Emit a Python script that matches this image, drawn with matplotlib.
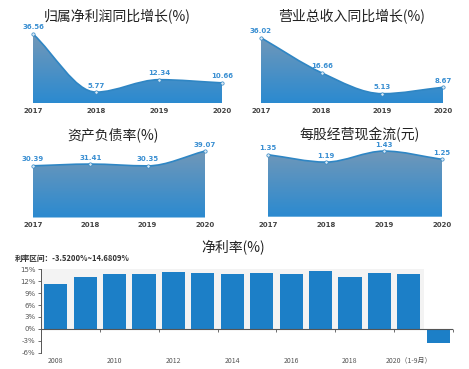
import numpy as np
import matplotlib
matplotlib.use("Agg")
import matplotlib.pyplot as plt
from matplotlib.path import Path
from matplotlib.patches import PathPatch
from matplotlib.colors import LinearSegmentedColormap

plt.rcParams['font.family'] = ['Noto Sans CJK SC', 'DejaVu Sans']

# ---- data ----
years = ['2017', '2018', '2019', '2020']
net_profit_growth = [36.56, 5.77, 12.34, 10.66]
revenue_growth = [36.02, 16.66, 5.13, 8.67]
debt_ratio = [30.39, 31.41, 30.35, 39.07]
ocf_per_share = [1.35, 1.19, 1.43, 1.25]

margin_years = ['2008', '', '2010', '', '2012', '', '2014', '', '2016', '',
                '2018', '', '2020（1-9月）', '']
net_margin = [11.2, 13.1, 13.9, 13.7, 14.3, 14.1, 13.9, 14.0, 13.9, 14.68,
              13.0, 14.1, 13.9, -3.52]
margin_yticks = [15, 12, 9, 6, 3, 0, -3, -6]

W, H = 469, 369
fig = plt.figure(figsize=(W / 100, H / 100), dpi=100)
fig.patch.set_facecolor('white')

LINE = '#2f86c4'
LABEL = '#3a8fd2'
grad = LinearSegmentedColormap.from_list('g', ['#2b8ad0', '#7899b6'])


def px_axes(l, t, r, b):
    return fig.add_axes([l / W, 1 - b / H, (r - l) / W, (b - t) / H])


def spline_path(xs, ys):
    # smooth bezier through the points, flat at local extremes (no overshoot)
    n = len(xs)
    sec = [(ys[i + 1] - ys[i]) / (xs[i + 1] - xs[i]) for i in range(n - 1)]
    m = [sec[0]] + [0.0] * (n - 2) + [sec[-1]]
    for i in range(1, n - 1):
        if sec[i - 1] * sec[i] > 0:
            m[i] = (sec[i - 1] + sec[i]) / 2
    verts, codes = [(xs[0], ys[0])], [Path.MOVETO]
    for i in range(n - 1):
        h = (xs[i + 1] - xs[i]) / 3
        verts += [(xs[i] + h, ys[i] + m[i] * h),
                  (xs[i + 1] - h, ys[i + 1] - m[i + 1] * h),
                  (xs[i + 1], ys[i + 1])]
        codes += [Path.CURVE4] * 3
    return verts, codes


def area_panel(box, vals, ytop, title, tx, ty):
    ax = px_axes(*box)
    xs = np.arange(len(vals))
    ax.set_xlim(0, len(vals) - 1)
    ax.set_ylim(0, ytop)
    verts, codes = spline_path(xs, vals)
    fill_verts = [(xs[0], 0)] + verts + [(xs[-1], 0), (xs[0], 0)]
    fill_codes = [Path.MOVETO, Path.LINETO] + codes[1:] + [Path.LINETO, Path.CLOSEPOLY]
    poly = PathPatch(Path(fill_verts, fill_codes), facecolor='none', edgecolor='none')
    ax.add_patch(poly)
    img = ax.imshow(np.linspace(0, 1, 100).reshape(-1, 1), cmap=grad, aspect='auto',
                    extent=[0, len(vals) - 1, 0, ytop], origin='lower', zorder=1)
    img.set_clip_path(poly)
    ax.add_patch(PathPatch(Path(verts, codes), facecolor='none', edgecolor=LINE,
                           lw=1.2, zorder=2))
    ax.plot(xs, vals, ls='none', marker='o', ms=2.4, mfc='#dbe9f5', mec=LINE,
            mew=0.5, zorder=3, clip_on=False)
    for x, v in zip(xs, vals):
        ax.annotate(f'{v:.2f}', (x, v), xytext=(0, 2.5), textcoords='offset points',
                    ha='center', va='bottom', fontsize=5, color=LABEL,
                    fontweight='bold', family='DejaVu Sans')
    ax.set_xticks(xs)
    ax.set_xticklabels(years, fontsize=5, color='#444444', fontweight='bold',
                       family='DejaVu Sans')
    ax.tick_params(axis='x', length=0, pad=3.5)
    ax.set_yticks([])
    for s in ax.spines.values():
        s.set_visible(False)
    fig.text(tx / W, 1 - ty / H, title, ha='center', va='center', fontsize=10,
             color='#222222')
    return ax


area_panel((33, 28, 222, 103), net_profit_growth, 39.7, '归属净利润同比增长(%)', 117, 17)
area_panel((261, 28, 443, 103), revenue_growth, 41.4, '营业总收入同比增长(%)', 352, 17)
area_panel((33, 143, 205, 217.5), debt_ratio, 43.8, '资产负债率(%)', 113, 135)
area_panel((268, 143, 442, 216.7), ocf_per_share, 1.606, '每股经营现金流(元)', 360, 135)

# ---- net margin bar chart ----
ax = px_axes(41, 269.3, 453, 352.6)
xb = np.arange(len(net_margin))
ax.set_xlim(-0.5, len(net_margin) - 0.5)
ax.set_ylim(-6, 15)
ax.axhspan(0, 15, xmin=0, xmax=13 / 14, color='#f3f3f3', zorder=0, lw=0)
ax.bar(xb, net_margin, width=0.79, color='#1c7fc7', zorder=2)
ax.axhline(0, color='#555555', lw=0.8, zorder=3)
ax.set_yticks(margin_yticks)
ax.set_yticklabels([f'{t}%' for t in margin_yticks], fontsize=5, color='#555555',
                   family='DejaVu Sans')
ax.tick_params(axis='y', length=2.5, width=0.6, color='#555555', pad=1.5)
ax.set_xticks(xb)
ax.set_xticklabels(margin_years, fontsize=5, color='#555555')
ax.tick_params(axis='x', length=0, pad=3)
for s in ['top', 'right', 'bottom']:
    ax.spines[s].set_visible(False)
ax.spines['left'].set_color('#555555')
ax.spines['left'].set_linewidth(0.7)
sec = ax.secondary_xaxis(6 / 21)
sec.set_xticks(np.arange(1.5, len(net_margin), 2))
sec.set_xticklabels([])
sec.tick_params(length=2, width=0.6, color='#555555')
sec.spines['bottom'].set_visible(False)

fig.text(233 / W, 1 - 247 / H, '净利率(%)', ha='center', va='center', fontsize=10,
         color='#222222')
fig.text(15 / W, 1 - 258 / H, '利率区间：-3.5200%~14.6809%', ha='left', va='center',
         fontsize=5.5, color='#333333', fontweight='bold')

fig.savefig('out.png', dpi=100)
